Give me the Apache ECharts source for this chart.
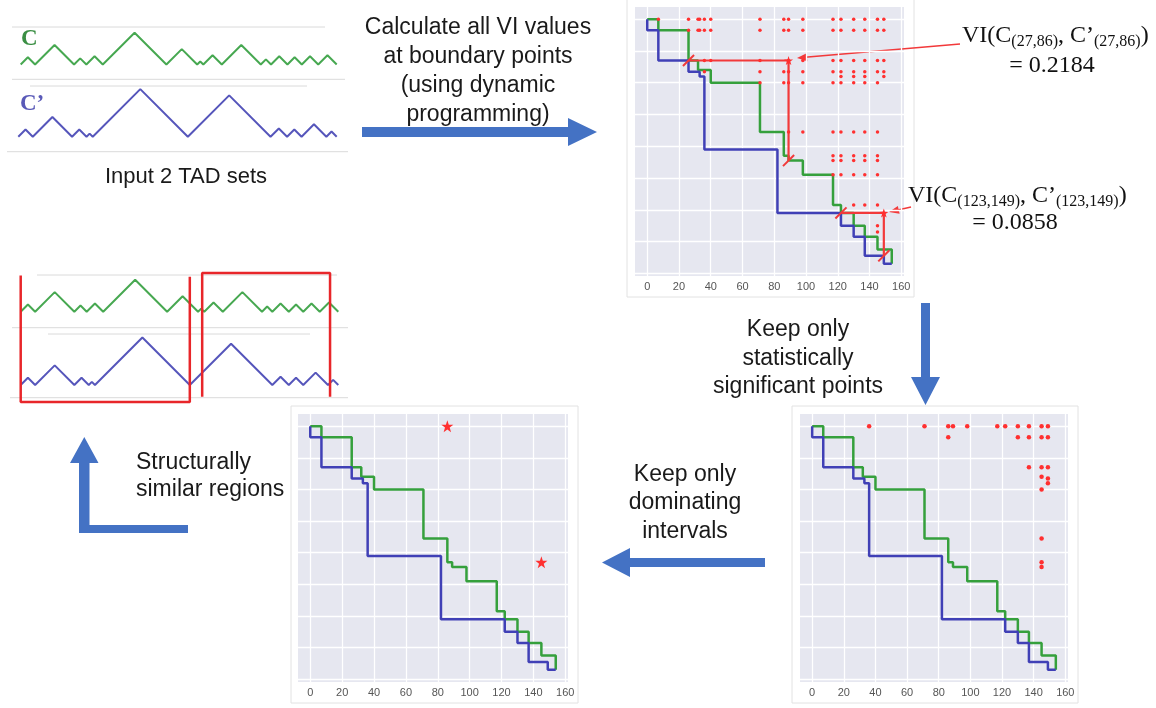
<!DOCTYPE html>
<html>
<head>
<meta charset="utf-8">
<script src="https://cdn.jsdelivr.net/npm/echarts@6/dist/echarts.min.js"></script>
<style>
html, body { margin: 0; padding: 0; background: #fff; }
#main { width: 1156px; height: 708px; }
</style>
</head>
<body>
<div id="main"></div>
<script>
// TAD boundaries (bin index) of the two TAD sets
var boundsC = [0, 7, 26, 32, 40, 71, 86, 89, 98, 117, 122, 130, 137, 145, 154];
var boundsC2 = [0, 7, 26, 33, 36, 82, 122, 130, 137, 149, 154];
// x tick labels of the boundary plots
var axisTicks = [0, 20, 40, 60, 80, 100, 120, 140, 160];

// all VI values at boundary points: rows (y) and the x of each dot in that row
var viAllRows = [0, 7, 26, 33, 36, 40, 71, 86, 89, 98, 117, 130, 134];
var viAllCols = [
  [7, 26, 32, 33, 36, 40, 71, 86, 89, 98, 117, 122, 130, 137, 145, 149],
  [26, 32, 33, 36, 40, 71, 86, 89, 98, 117, 122, 130, 137, 145, 149],
  [36, 40, 71, 89, 98, 117, 122, 130, 137, 145, 149],
  [36, 71, 86, 89, 98, 117, 122, 130, 137, 145, 149],
  [122, 130, 137, 149],
  [71, 86, 89, 98, 117, 122, 130, 137, 145],
  [89, 98, 117, 122, 130, 137, 145],
  [117, 122, 130, 137, 145],
  [117, 122, 130, 137, 145],
  [117, 122, 130, 137, 145],
  [130, 137, 145],
  [145],
  [145]
];
// highlighted intervals [start, end]
var viIntervals = [[26, 89], [122, 149]];
// statistically significant points
var sigPoints = [
  [36, 0], [71, 0], [86, 0], [89, 0], [98, 0], [117, 0], [122, 0], [130, 0], [137, 0], [145, 0], [149, 0],
  [86, 7], [130, 7], [137, 7], [145, 7], [149, 7],
  [137, 26], [145, 26], [149, 26],
  [145, 32], [149, 33], [149, 36], [145, 40],
  [145, 71], [145, 86], [145, 89]
];
// dominating intervals
var domPoints = [[86, 0], [145, 86]];
// structurally similar regions (bins)
var regionStart = [0, 88];
var regionEnd = [82, 150];

function stairLower(b) {
  var pts = [[b[0], b[0]]];
  for (var i = 1; i < b.length; i++) {
    pts.push([b[i - 1], b[i]]);
    pts.push([b[i], b[i]]);
  }
  return pts;
}
function stairUpper(b) {
  var pts = [[b[0], b[0]]];
  for (var i = 1; i < b.length; i++) {
    pts.push([b[i], b[i - 1]]);
    pts.push([b[i], b[i]]);
  }
  return pts;
}
function zigzag(b) {
  var pts = [[b[0], 0]];
  for (var i = 1; i < b.length; i++) {
    pts.push([(b[i - 1] + b[i]) / 2, (b[i] - b[i - 1]) / 2]);
    pts.push([b[i], 0]);
  }
  return pts;
}

var viAllPoints = [];
viAllRows.forEach(function (y, i) {
  viAllCols[i].forEach(function (x) { viAllPoints.push([x, y]); });
});

var GREEN = '#35a03c';
var BLUE = '#4040b6';
var RED = '#f2393a';
var ARROW = '#4472c4';
var STAR = 'path://M50,0 L61.8,35.1 L98.9,35.5 L69.1,57.6 L80.2,93 L50,71.5 L19.8,93 L30.9,57.6 L1.1,35.5 L38.2,35.1 Z';

var plotBoxes = [
  { left: 635, top: 7, width: 269, height: 269 },
  { left: 800, top: 414, width: 268, height: 268 },
  { left: 298, top: 414, width: 270, height: 268 }
];
var tadBoxes = [
  { left: 20.7, top: 23.5, width: 316, height: 41, ymax: 20 },
  { left: 18.3, top: 85, width: 318.4, height: 51.7, ymax: 25 },
  { left: 20.7, top: 270.5, width: 317.6, height: 41.2, ymax: 20 },
  { left: 20.7, top: 333.4, width: 317.6, height: 51.6, ymax: 25 },
  { left: 20.7, top: 273, width: 317.6, height: 129, ymax: 1 }
];

var grids = [], xAxes = [], yAxes = [];
plotBoxes.forEach(function (b) {
  grids.push({ left: b.left, top: b.top, width: b.width, height: b.height,
    show: true, backgroundColor: '#e6e7f0', borderWidth: 0 });
  var gi = grids.length - 1;
  xAxes.push({
    gridIndex: gi, type: 'value', min: -7.7, max: 161.7, minInterval: 20, maxInterval: 20,
    axisLine: { show: false }, axisTick: { show: false },
    axisLabel: {
      margin: 5, color: '#555', fontSize: 11, fontFamily: 'Liberation Sans',
      showMinLabel: false, showMaxLabel: false,
      formatter: function (v) { return axisTicks.indexOf(v) >= 0 ? String(v) : ''; }
    },
    splitLine: { show: true, showMinLine: false, showMaxLine: false, lineStyle: { color: '#fff', width: 1.3 } }
  });
  yAxes.push({
    gridIndex: gi, type: 'value', inverse: true, min: -7.7, max: 161.7, minInterval: 20, maxInterval: 20,
    axisLine: { show: false }, axisTick: { show: false }, axisLabel: { show: false },
    splitLine: { show: true, showMinLine: false, showMaxLine: false, lineStyle: { color: '#fff', width: 1.3 } }
  });
});
tadBoxes.forEach(function (b) {
  grids.push({ left: b.left, top: b.top, width: b.width, height: b.height });
  var gi = grids.length - 1;
  xAxes.push({ gridIndex: gi, type: 'value', min: 0, max: 154, show: false });
  yAxes.push({ gridIndex: gi, type: 'value', min: 0, max: b.ymax, show: false });
});

var series = [];
function line(gi, data, color, width) {
  series.push({
    type: 'line', xAxisIndex: gi, yAxisIndex: gi, data: data, showSymbol: false, symbol: 'none',
    clip: false, silent: true, lineStyle: { color: color, width: width }
  });
}
function scatter(gi, data, symbol, size) {
  series.push({
    type: 'scatter', xAxisIndex: gi, yAxisIndex: gi, data: data, symbol: symbol, symbolSize: size,
    silent: true, itemStyle: { color: '#ff3030', opacity: 1 }, z: 4
  });
}

// boundary plots: C (green) upper staircase, C' (blue) lower staircase
for (var g = 0; g < 3; g++) {
  line(g, stairUpper(boundsC), GREEN, 2.5);
  line(g, stairLower(boundsC2), BLUE, 2.5);
}
scatter(0, viAllPoints, 'circle', 3.5);
viIntervals.forEach(function (iv) {
  var a = iv[0], b = iv[1];
  line(0, [[a, a], [b, a], [b, b]], RED, 2.2);
  line(0, [[a - 3.5, a + 3.5], [a + 3.5, a - 3.5]], RED, 2);
  line(0, [[b - 3.5, b + 3.5], [b + 3.5, b - 3.5]], RED, 2);
});
scatter(0, viIntervals.map(function (iv) { return [iv[1], iv[0]]; }), STAR, 9);
scatter(1, sigPoints, 'circle', 4.5);
scatter(2, domPoints, STAR, 12);

// TAD triangle tracks
line(3, zigzag(boundsC), '#47a851', 2);
line(4, zigzag(boundsC2), '#5656bb', 2);
line(5, zigzag(boundsC), '#47a851', 2);
line(6, zigzag(boundsC2), '#5656bb', 2);
// similar-region brackets
line(7, [[regionStart[0], 0.98], [regionStart[0], 0], [regionEnd[0], 0], [regionEnd[0], 0.97]], '#e8262a', 2.5);
line(7, [[regionStart[1], 0.04], [regionStart[1], 1], [regionEnd[1], 1], [regionEnd[1], 0.04]], '#e8262a', 2.5);

// decorations
var graphic = [];
[[627, -1, 287, 298], [792, 406, 286, 297], [291, 406, 287, 297]].forEach(function (r) {
  graphic.push({ type: 'rect', shape: { x: r[0], y: r[1], width: r[2], height: r[3] },
    style: { fill: 'none', stroke: '#e2e2e2', lineWidth: 1 }, silent: true });
});
[[12, 27, 325], [12, 79.3, 345], [30, 86, 307], [7, 151.7, 348],
 [37, 275, 337], [12, 327.7, 348], [48, 334, 310], [10, 397.7, 348]].forEach(function (l) {
  graphic.push({ type: 'line', shape: { x1: l[0], y1: l[1], x2: l[2], y2: l[1] },
    style: { stroke: '#dadada', lineWidth: 1 }, silent: true });
});
var arrows = [
  [[362, 127], [568, 127], [568, 118], [597, 132], [568, 146], [568, 137], [362, 137]],
  [[921, 303], [930, 303], [930, 377], [940, 377], [925.5, 405], [911, 377], [921, 377]],
  [[765, 558], [630, 558], [630, 548], [602, 562.5], [630, 577], [630, 567], [765, 567]],
  [[79, 533], [188, 533], [188, 525], [89.5, 525], [89.5, 463], [98.5, 463], [84.3, 437], [70, 463], [79, 463]]
];
arrows.forEach(function (p) {
  graphic.push({ type: 'polygon', shape: { points: p }, style: { fill: ARROW }, silent: true });
});

function label(text, x, y, align, size) {
  graphic.push({ type: 'text', x: x, y: y, silent: true,
    style: { text: text, font: (size || 23) + 'px "Liberation Sans"', fill: '#1a1a1a',
      align: align || 'center', verticalAlign: 'middle' } });
}
label('Input 2 TAD sets', 186, 177, 'center', 22);
label('Calculate all VI values', 478, 28);
label('at boundary points', 478, 57);
label('(using dynamic', 478, 86);
label('programming)', 478, 115);
label('Keep only', 798, 330);
label('statistically', 798, 358.5);
label('significant points', 798, 387);
label('Keep only', 685, 475);
label('dominating', 685, 503);
label('intervals', 685, 532);
label('Structurally', 136, 463, 'left');
label('similar regions', 136, 490, 'left');

graphic.push({ type: 'text', x: 21, y: 39, silent: true,
  style: { text: 'C', font: 'bold 23px "Liberation Serif"', fill: '#3b8f44', align: 'left', verticalAlign: 'middle' } });
graphic.push({ type: 'text', x: 20, y: 104, silent: true,
  style: { text: 'C\u2019', font: 'bold 23px "Liberation Serif"', fill: '#5a5ab8', align: 'left', verticalAlign: 'middle' } });

// VI formulas with subscripts
var mctx = document.createElement('canvas').getContext('2d');
function formula(parts, x0, y0) {
  var x = x0;
  parts.forEach(function (p) {
    var font = p[1] + 'px "Liberation Serif"';
    mctx.font = font;
    graphic.push({ type: 'text', x: x, y: y0 + p[2], silent: true,
      style: { text: p[0], font: font, fill: '#111', align: 'left', verticalAlign: 'middle' } });
    x += mctx.measureText(p[0]).width;
  });
}
formula([['VI(C', 24, 0], ['(27,86)', 16, 6], [', C\u2019', 24, 0], ['(27,86)', 16, 6], [')', 24, 0]], 962, 36);
formula([['VI(C', 24, 0], ['(123,149)', 16, 6], [', C\u2019', 24, 0], ['(123,149)', 16, 6], [')', 24, 0]], 908, 196);
graphic.push({ type: 'text', x: 1052, y: 66, silent: true,
  style: { text: '= 0.2184', font: '24px "Liberation Serif"', fill: '#111', align: 'center', verticalAlign: 'middle' } });
graphic.push({ type: 'text', x: 1015, y: 223, silent: true,
  style: { text: '= 0.0858', font: '24px "Liberation Serif"', fill: '#111', align: 'center', verticalAlign: 'middle' } });

// thin red pointers from the formulas to the stars
[[[960, 44], [797, 58]], [[911, 207], [889, 212]]].forEach(function (a) {
  var p0 = a[0], p1 = a[1];
  var dx = p0[0] - p1[0], dy = p0[1] - p1[1], len = Math.sqrt(dx * dx + dy * dy);
  var ux = dx / len, uy = dy / len;
  graphic.push({ type: 'line', shape: { x1: p0[0], y1: p0[1], x2: p1[0] + ux * 8, y2: p1[1] + uy * 8 },
    style: { stroke: RED, lineWidth: 1.6 }, silent: true });
  graphic.push({ type: 'polygon', silent: true, style: { fill: RED },
    shape: { points: [[p1[0], p1[1]],
      [p1[0] + ux * 10 - uy * 4, p1[1] + uy * 10 + ux * 4],
      [p1[0] + ux * 10 + uy * 4, p1[1] + uy * 10 - ux * 4]] } });
});

var chart = echarts.init(document.getElementById('main'));
chart.setOption({
  animation: false,
  backgroundColor: '#fff',
  grid: grids,
  xAxis: xAxes,
  yAxis: yAxes,
  series: series,
  graphic: graphic
});
</script>
</body>
</html>
